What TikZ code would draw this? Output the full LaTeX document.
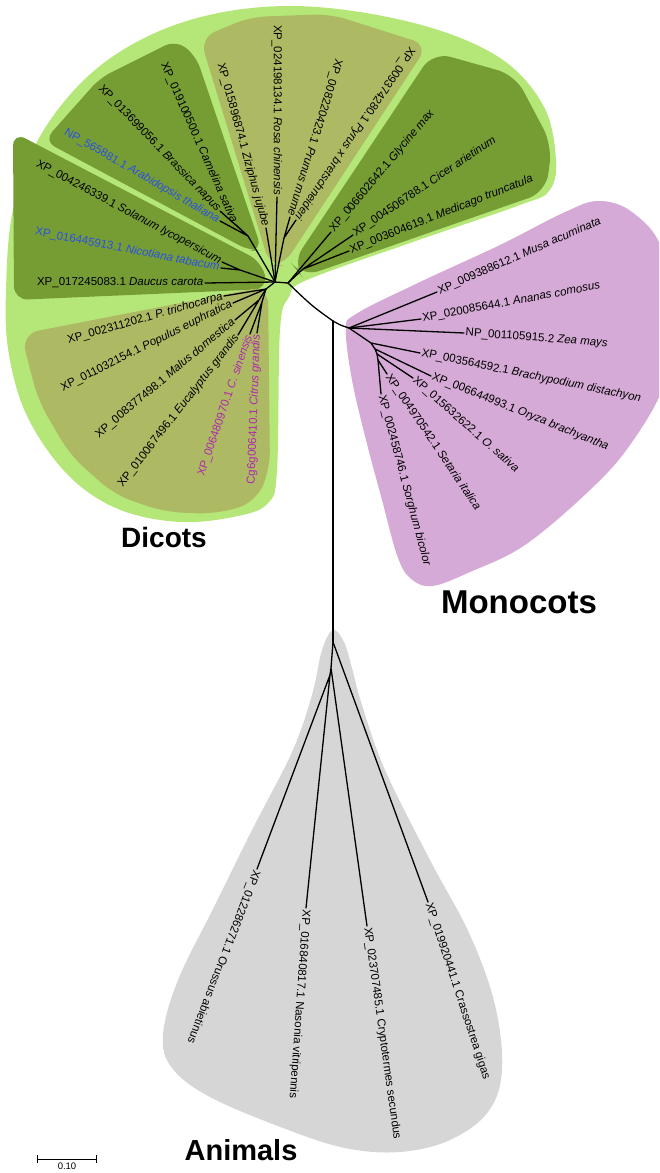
\documentclass[tikz,border=0pt]{standalone}
\usepackage{fontspec}
\setmainfont{Liberation Sans}
\usetikzlibrary{arrows.meta}
\definecolor{lightgreen}{RGB}{181,230,120}
\definecolor{darkgreen}{RGB}{118,157,52}
\definecolor{olivegreen}{RGB}{174,186,99}
\definecolor{monopink}{RGB}{213,170,214}
\definecolor{animgrey}{RGB}{214,214,214}
\definecolor{seqblue}{RGB}{40,80,230}
\definecolor{seqmagenta}{RGB}{175,40,175}

\begin{document}
\begin{tikzpicture}[x=1pt,y=-1pt,
  br/.style={line width=1.3pt,line cap=round,line join=round},
  seq/.style={font=\fontsize{11.5}{13}\selectfont,inner sep=1.5pt},
  seqleft/.style={seq,anchor=east},
  seqright/.style={seq,anchor=west},
  grp/.style={font=\fontsize{28}{32}\selectfont\bfseries}]
\clip (0,0) rectangle (659,1173);

% clade backgrounds
\fill[lightgreen] plot[smooth cycle,tension=0.6] coordinates {(6,290) (14,205) (45,128) (105,62) (190,20) (294,6) (410,22) (497,56) (543,105) (556,160) (549,191) (520,205) (410,243) (307,280) (289,297) (280,330) (277,470) (268,503) (238,516) (180,522) (118,509) (68,475) (28,418) (9,355)};
\fill[darkgreen,rounded corners=12pt] (44,141) -- (100,78) -- (176,40) -- (196,56) -- (262,250) -- (250,251) -- cycle;
\fill[darkgreen,rounded corners=14pt] (13,132) -- (262,262) -- (268,289) -- (14,300) -- cycle;
\fill[olivegreen,rounded corners=16pt] (200,38) -- (250,17) -- (330,14) -- (428,45) -- (283,266) -- (270,266) -- cycle;
\fill[darkgreen,rounded corners=18pt] (292,264) -- (433,52) -- (515,75) -- (552,145) -- (546,192) -- (302,277) -- cycle;
\fill[olivegreen,rounded corners=18pt] (21,334) -- (268,286) -- (270,470) -- (255,503) -- (215,514) -- (165,512) -- (115,495) -- (70,455) -- (38,400) -- cycle;
\fill[monopink] plot[smooth cycle,tension=0.6] coordinates {(346,330) (356,314) (420,282) (500,245) (563,213) (598,201) (632,212) (662,250) (668,330) (664,385) (630,445) (590,490) (525,545) (470,572) (432,586) (410,578) (397,555) (382,500) (366,440) (352,380)};
\fill[animgrey] plot[smooth cycle,tension=0.6] coordinates {(333,630) (344,642) (352,668) (362,705) (385,770) (430,860) (470,935) (495,1005) (502,1070) (488,1112) (450,1140) (400,1152) (345,1148) (283,1128) (210,1097) (172,1068) (163,1035) (178,980) (215,905) (252,830) (292,752) (312,695) (322,650)};

% inner nodes
\coordinate (root) at (333,321);
\coordinate (dicotbase) at (288,283);
\coordinate (dicot) at (275,282);
\coordinate (solnode) at (240,270);
\coordinate (brasnode) at (248,236);
\coordinate (rosnode) at (284,238);
\coordinate (legnode) at (303,269);
\coordinate (lownode) at (266,289);
\coordinate (low2) at (259,300);
\coordinate (low3) at (262,302);
\coordinate (mono) at (349,328);
\coordinate (mono1) at (371,343);
\coordinate (mono2) at (375,349);
\coordinate (mono3) at (377,354);
\coordinate (mono4) at (378,360);
\coordinate (anim) at (333,642);
\coordinate (anim1) at (331,668);
\coordinate (anim2) at (330,675);

% dicot leaves
\coordinate (daucus) at (205,283);
\node[seqleft] (ldaucus) at (daucus) {XP\_017245083.1 \textit{Daucus carota}};
\coordinate (nicot) at (221,268);
\node[seqleft,text=seqblue,rotate=-11] (lnicot) at (nicot) {XP\_016445913.1 \textit{Nicotiana tabacum}};
\coordinate (solan) at (222,262);
\node[seqleft,rotate=-28] (lsolan) at (solan) {XP\_004246339.1 \textit{Solanum lycopersicum}};
\coordinate (arabid) at (220,221);
\node[seqleft,text=seqblue,rotate=-30] (larabid) at (arabid) {NP\_565881.1 \textit{Arabidopsis thaliana}};
\coordinate (brass) at (220,211);
\node[seqleft,rotate=-46] (lbrass) at (brass) {XP\_013699056.1 \textit{Brassica napus}};
\coordinate (camel) at (235,224);
\node[seqleft,rotate=-66] (lcamel) at (camel) {XP\_019100500.1 \textit{Camelina sativa}};
\coordinate (zizi) at (266,228);
\node[seqleft,rotate=-74.5] (lzizi) at (zizi) {XP\_015896874.1 \textit{Ziziphus jujube}};
\coordinate (rosa) at (277,197);
\node[seqleft,rotate=-90] (lrosa) at (rosa) {XP\_024198134.1 \textit{Rosa chinensis}};
\coordinate (prunus) at (290,217);
\node[seqleft,rotate=-107] (lprunus) at (prunus) {XP\_008220423.1 \textit{Prunus mume}};
\coordinate (pyrus) at (296,220);
\node[seqleft,rotate=-124] (lpyrus) at (pyrus) {XP\_009374280.1 \textit{Pyrus x bretschneideri}};
\coordinate (glyc) at (331,232);
\node[seqright,rotate=50] (lglyc) at (glyc) {XP\_006602642.1 \textit{Glycine max}};
\coordinate (cicer) at (353,235);
\node[seqright,rotate=34] (lcicer) at (cicer) {XP\_004506788.1 \textit{Cicer arietinum}};
\coordinate (medic) at (349,251);
\node[seqright,rotate=21.5] (lmedic) at (medic) {XP\_003604619.1 \textit{Medicago truncatula}};
\coordinate (ptri) at (224,296);
\node[seqleft,rotate=16] (lptri) at (ptri) {XP\_002311202.1 \textit{P. trichocarpa}};
\coordinate (popu) at (233,303);
\node[seqleft,rotate=26.5] (lpopu) at (popu) {XP\_011032154.1 \textit{Populus euphratica}};
\coordinate (malus) at (235,320);
\node[seqleft,rotate=40] (lmalus) at (malus) {XP\_008377498.1 \textit{Malus domestica}};
\coordinate (eucal) at (238,335);
\node[seqleft,rotate=52] (leucal) at (eucal) {XP\_010067496.1 \textit{Eucalyptus grandis}};
\coordinate (csin) at (250,334);
\node[seqleft,text=seqmagenta,rotate=71] (lcsin) at (csin) {XP\_006480970.1 \textit{C. sinensis}};
\coordinate (cgra) at (257,333);
\node[seqleft,text=seqmagenta,rotate=88] (lcgra) at (cgra) {Cg6g006410.1 \textit{Citrus grandis}};

% monocot leaves
\coordinate (musa) at (437,292);
\node[seqright,rotate=23.5] (lmusa) at (musa) {XP\_009388612.1 \textit{Musa acuminata}};
\coordinate (anan) at (421,319);
\node[seqright,rotate=10.5] (lanan) at (anan) {XP\_020085644.1 \textit{Ananas comosus}};
\coordinate (zea) at (464,333);
\node[seqright,rotate=-4.3] (lzea) at (zea) {NP\_001105915.2 \textit{Zea mays}};
\coordinate (brach) at (420,353);
\node[seqright,rotate=-11.7] (lbrach) at (brach) {XP\_003564592.1 \textit{Brachypodium distachyon}};
\coordinate (oryb) at (431,376);
\node[seqright,rotate=-22] (loryb) at (oryb) {XP\_006644993.1 \textit{Oryza brachyantha}};
\coordinate (osat) at (413,378);
\node[seqright,rotate=-41.6] (losat) at (osat) {XP\_015632622.1 \textit{O. sativa}};
\coordinate (setar) at (387,374);
\node[seqright,rotate=-56] (lsetar) at (setar) {XP\_004970542.1 \textit{Setaria italica}};
\coordinate (sorg) at (381,394);
\node[seqright,rotate=-75] (lsorg) at (sorg) {XP\_002458746.1 \textit{Sorghum bicolor}};

% animal leaves
\coordinate (crass) at (428,902);
\node[seqright,rotate=-71.7] (lcrass) at (crass) {XP\_019920441.1 Crassostrea gigas};
\coordinate (crypt) at (367,926);
\node[seqright,rotate=-82] (lcrypt) at (crypt) {XP\_023707485.1 Cryptotermes secundus};
\coordinate (nason) at (306,908);
\node[seqright,rotate=-94] (lnason) at (nason) {XP\_016840817.1 Nasonia vitripennis};
\coordinate (oruss) at (257,869);
\node[seqright,rotate=-111] (loruss) at (oruss) {XP\_012286271.1 Orussus abietinus};

% branches
\draw[br] (dicotbase) .. controls (312,306) .. (root);
\draw[br] (root) .. controls (340,325) .. (mono);
\draw[br] (root) -- (anim);
\draw[br] (dicotbase) -- (dicot);
\draw[br] (dicot) -- (daucus);
\draw[br] (dicot) -- (solnode) (solnode) -- (solan) (solnode) -- (nicot);
\draw[br] (dicot) -- (brasnode) (brasnode) -- (brass) (brasnode) -- (arabid) (brasnode) -- (camel);
\draw[br] (dicot) -- (zizi);
\draw[br] (dicot) -- (rosa);
\draw[br] (dicot) -- (rosnode) (rosnode) -- (prunus) (rosnode) -- (pyrus);
\draw[br] (dicotbase) -- (glyc);
\draw[br] (dicotbase) -- (legnode) (legnode) -- (cicer) (legnode) -- (medic);
\draw[br] (dicot) -- (lownode) (lownode) -- (ptri) (lownode) -- (popu);
\draw[br] (lownode) -- (low2) (low2) -- (malus) (low2) -- (eucal);
\draw[br] (lownode) -- (low3) (low3) -- (csin) (low3) -- (cgra);
\draw[br] (mono) -- (musa);
\draw[br] (mono) -- (anan);
\draw[br] (mono) -- (zea);
\draw[br] (mono) -- (mono1) (mono1) -- (brach) (mono1) -- (mono2);
\draw[br] (mono2) -- (oryb) (mono2) -- (mono3);
\draw[br] (mono3) -- (osat) (mono3) -- (mono4);
\draw[br] (mono4) -- (setar) (mono4) -- (sorg);
\draw[br] (anim) -- (crass);
\draw[br] (anim) -- (anim1) (anim1) -- (crypt) (anim1) -- (anim2);
\draw[br] (anim2) -- (oruss) (anim2) -- (nason);

% group names
\node[grp] (dicots) at (164,537) {Dicots};
\node[grp,font=\fontsize{33}{36}\selectfont\bfseries] (monocots) at (519,602) {Monocots};
\node[grp,font=\fontsize{29}{32}\selectfont\bfseries] (animals) at (241,1150) {Animals};

% scale bar
\coordinate (sbleft) at (37,1159);
\coordinate (sbright) at (97,1159);
\draw[line width=0.9pt,{Bar[width=8pt]}-{Bar[width=8pt]}] (sbleft) -- (sbright) node[midway,below=0pt,font=\fontsize{9.5}{11}\selectfont] (sblabel) {0.10};
\end{tikzpicture}
\end{document}
